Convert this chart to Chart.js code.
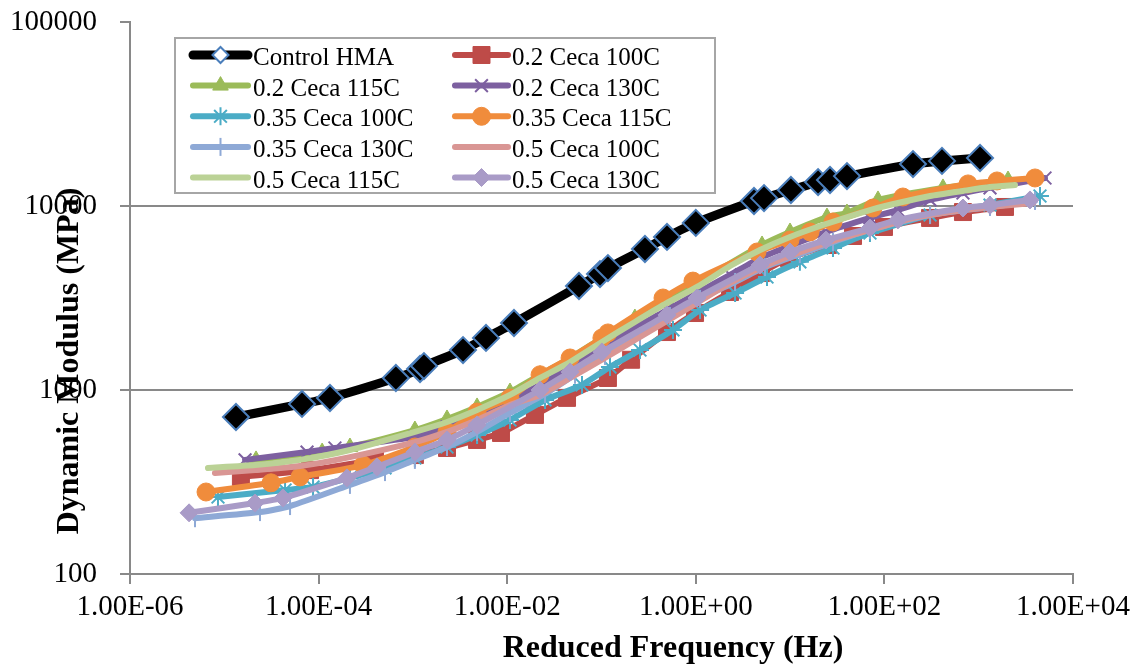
<!DOCTYPE html>
<html>
<head>
<meta charset="utf-8">
<script src="https://cdn.jsdelivr.net/npm/chart.js@4.4.1/dist/chart.umd.min.js"></script>
<style>html,body{margin:0;padding:0;background:#fff}</style>
</head>
<body>
<canvas id="chart" width="1145" height="667"></canvas>
<script>
// master curves, reduced frequency (Hz) vs dynamic modulus (MPa)
const xTicks=[1e-6,1e-4,1e-2,1,1e2,1e4];
const yTicks=[100,1000,10000,100000];

const controlFreq=[1.33e-5,6.67e-5,1.32e-4,6.6e-4,1.19e-3,1.31e-3,3.4e-3,5.96e-3,0.0118,0.0577,0.0964,0.117,0.289,0.495,1.0,4.14,5.29,10.2,19.8,26.5,40.1,201,408,1033];
const controlMod=[713,840,905,1162,1300,1349,1648,1918,2312,3673,4266,4600,5838,6790,8094,10650,11040,12220,13490,13840,14540,16900,17580,18240];

const c02_100Freq=[1.5e-5,8.11e-5,3.96e-4,1.05e-3,2.3e-3,4.79e-3,8.59e-3,0.0197,0.0431,0.117,0.206,0.495,0.982,2.31,4.91,9.73,25.2,46.5,99,305,681,1901];
const c02_100Mod=[337,367,417,443,484,535,584,732,906,1162,1460,2065,2620,3410,4320,5210,6140,6870,7690,8610,9270,9880];

const c02_115Freq=[2.17e-5,1.09e-4,2.15e-4,1.05e-3,2.3e-3,4.79e-3,0.0107,0.0223,0.0464,0.101,0.226,0.495,1.03,5.04,9.98,24.6,40.1,85.5,418,2046];
const c02_115Mod=[417,460,490,606,696,809,975,1210,1493,1918,2460,3080,3816,6140,7225,8710,9160,10790,12540,13840];

const c02_130Freq=[1.66e-5,7.54e-5,1.49e-4,1.05e-3,2.3e-3,4.79e-3,0.0107,0.0223,0.0464,0.101,0.226,0.495,1.03,2.31,4.8,9.98,24.0,70.3,139,305,681,1318,5047];
const c02_130Mod=[417,460,484,556,630,732,883,1065,1334,1690,2173,2720,3365,4220,5210,6070,7225,8610,9510,10790,11770,12540,14200];

const c035_100Freq=[8.57e-6,4.41e-5,8.73e-5,2.15e-4,5.06e-4,1.05e-3,2.3e-3,4.79e-3,0.0107,0.0252,0.0621,0.123,0.256,0.573,1.11,2.61,5.69,12.7,28.5,70.3,305,1318,4467];
const c035_100Mod=[262,286,297,333,377,427,490,569,687,883,1065,1334,1650,2120,2720,3365,4110,4970,5910,7130,8930,10120,11330];

const c035_115Freq=[6.4e-6,3.13e-5,6.35e-5,2.96e-4,1.05e-3,2.3e-3,4.79e-3,0.0107,0.0223,0.0464,0.101,0.117,0.449,0.933,4.46,9.98,16.3,28.5,75.7,157,771,1563,3956];
const c035_115Mod=[279,313,337,391,490,592,759,906,1210,1493,1918,2042,3162,3908,5623,6530,7225,8185,9750,11190,13180,13680,14200];

const c035_130Freq=[4.89e-6,2.39e-5,4.98e-5,2.15e-4,5.06e-4,1.05e-3,2.3e-3,4.79e-3,0.0107,0.0252,0.0524,0.109,0.256,0.532,1.11,2.61,5.42,12.7,28.5,70.3,305,1318,3956];
const c035_130Mod=[201,217,234,305,358,417,490,592,750,951,1210,1531,1963,2523,3126,3862,4656,5480,6370,7410,8930,9880,10650];

const c05_100Freq=[7.96e-6,2.12e-5,6.35e-5,2.15e-4,1.05e-3,2.3e-3,4.79e-3,0.0107,0.0223,0.0464,0.101,0.226,0.495,1.03,2.31,4.8,9.98,24.0,70.3,201,681,1683,3767];
const c05_100Mod=[354,367,386,432,521,592,687,829,940,1162,1460,1870,2371,2972,3816,4600,5350,6290,7410,8610,9510,10000,10380];

const c05_115Freq=[6.71e-6,2.12e-5,6.35e-5,2.15e-4,1.05e-3,2.3e-3,4.79e-3,0.0107,0.0223,0.0464,0.101,0.226,0.495,1.03,2.31,4.8,9.98,24.0,70.3,139,305,681,1318,2427];
const c05_115Mod=[377,391,417,472,592,670,779,940,1162,1419,1824,2343,2972,3631,4721,5770,6790,7980,9510,10380,11330,12070,12680,13010];

const c05_130Freq=[4.23e-6,2.12e-5,4.19e-5,2.0e-4,4.16e-4,1.05e-3,2.3e-3,4.79e-3,0.0223,0.0464,0.101,0.495,1.03,4.8,9.98,24.0,70.3,139,681,1318,3499];
const c05_130Mod=[215,243,259,333,382,460,535,646,1000,1253,1610,2558,3162,4776,5623,6530,7586,8400,9750,10100,10790];

const SERIF="'Liberation Serif','Times New Roman',serif";
const AXIS='#898989';
const pts=(f,m)=>f.map((x,i)=>({x,y:m[i]}));

// label, data, colour, marker, line width
const series=[
  {label:'Control HMA',f:controlFreq,m:controlMod,color:'#000000',style:'rectRot',r:13,fill:'#000000',edge:'#4A7EBB',bw:2,lw:9},
  {label:'0.2 Ceca 100C',f:c02_100Freq,m:c02_100Mod,color:'#BE4B48',style:'rect',r:12,bw:1,lw:6},
  {label:'0.2 Ceca 115C',f:c02_115Freq,m:c02_115Mod,color:'#9BBB59',style:'triangle',r:9,bw:1,lw:6},
  {label:'0.2 Ceca 130C',f:c02_130Freq,m:c02_130Mod,color:'#7D60A0',style:'crossRot',r:9,bw:2,lw:6},
  {label:'0.35 Ceca 100C',f:c035_100Freq,m:c035_100Mod,color:'#4BACC6',style:'star',r:9,bw:2,lw:6},
  {label:'0.35 Ceca 115C',f:c035_115Freq,m:c035_115Mod,color:'#F08C3C',style:'circle',r:9,bw:1,lw:6},
  {label:'0.35 Ceca 130C',f:c035_130Freq,m:c035_130Mod,color:'#8EA9D6',style:'line',rot:90,r:9,bw:2,lw:6},
  {label:'0.5 Ceca 100C',f:c05_100Freq,m:c05_100Mod,color:'#D99694',style:false,r:0,bw:0,lw:6},
  {label:'0.5 Ceca 115C',f:c05_115Freq,m:c05_115Mod,color:'#BBD296',style:false,r:0,bw:0,lw:6},
  {label:'0.5 Ceca 130C',f:c05_130Freq,m:c05_130Mod,color:'#A99BC7',style:'rectRot',r:9,bw:1,lw:6}
];

const sci=v=>{const e=Math.round(Math.log10(v));const mant=(v/Math.pow(10,e)).toFixed(2);return mant+'E'+(e<0?'-':'+')+String(Math.abs(e)).padStart(2,'0');};

// legend box + axis titles drawn on top of the plot
const overlay={
  id:'overlay',
  afterDraw(chart){
    const ctx=chart.ctx;
    ctx.save();
    ctx.fillStyle='#000';
    ctx.font='bold 32px '+SERIF;
    ctx.textAlign='center';ctx.textBaseline='alphabetic';
    ctx.fillText('Reduced Frequency (Hz)',673,657);
    ctx.translate(70,361);ctx.rotate(-Math.PI/2);
    ctx.textBaseline='middle';
    ctx.fillText('Dynamic Modulus (MPa)',0,0);
    ctx.restore();

    ctx.save();
    ctx.fillStyle='#fff';ctx.fillRect(175,38,540,155);
    ctx.strokeStyle='#A6A6A6';ctx.lineWidth=2;ctx.strokeRect(175,38,540,155);
    const rows=[55,85.6,116.3,146.9,177.5];
    const cols=[{a:193,b:248,t:253},{a:455,b:508,t:512}];
    ctx.font='25px '+SERIF;ctx.textAlign='left';ctx.textBaseline='alphabetic';
    series.forEach((s,i)=>{
      const c=cols[i%2],y=rows[Math.floor(i/2)];
      ctx.strokeStyle=s.color;ctx.lineWidth=s.lw;ctx.lineCap='round';
      ctx.beginPath();ctx.moveTo(c.a,y);ctx.lineTo(c.b,y);ctx.stroke();
      if(s.style){
        const mx=(c.a+c.b)/2;
        ctx.fillStyle=i===0?'#fff':(s.fill||s.color);
        ctx.strokeStyle=s.edge||s.color;
        ctx.lineWidth=s.bw;ctx.lineCap='butt';
        Chart.helpers.drawPoint(ctx,{pointStyle:s.style,radius:i===0?8:s.r,rotation:s.rot||0,borderWidth:s.bw},mx,y);
      }
      ctx.fillStyle='#000';
      ctx.fillText(s.label,c.t,y+10);
    });
    ctx.restore();
  }
};

new Chart(document.getElementById('chart'),{
  type:'line',
  data:{datasets:series.map((s,i)=>({
    label:s.label,data:pts(s.f,s.m),order:series.length-i,
    borderColor:s.color,borderWidth:s.lw,borderCapStyle:'round',borderJoinStyle:'round',tension:0.2,
    pointStyle:s.style,pointRadius:s.r,pointRotation:s.rot||0,
    pointBackgroundColor:s.fill||s.color,pointBorderColor:s.edge||s.color,pointBorderWidth:s.bw
  }))},
  options:{
    responsive:false,animation:false,devicePixelRatio:1,
    layout:{padding:{left:0,top:22,right:72,bottom:0}},
    plugins:{legend:{display:false},tooltip:{enabled:false}},
    scales:{
      x:{type:'logarithmic',min:1e-6,max:1e4,
        afterBuildTicks:s=>{s.ticks=xTicks.map(v=>({value:v}));},
        afterFit:s=>{s.height=93;s.paddingLeft=0;s.paddingRight=0;},
        ticks:{autoSkip:false,maxRotation:0,padding:6,color:'#000',font:{family:SERIF,size:29},callback:v=>sci(v)},
        grid:{drawOnChartArea:false,tickLength:10,color:AXIS,lineWidth:2},
        border:{color:AXIS,width:2}},
      y:{type:'logarithmic',min:100,max:100000,
        afterBuildTicks:s=>{s.ticks=yTicks.map(v=>({value:v}));},
        afterFit:s=>{s.width=130;s.paddingTop=0;s.paddingBottom=0;},
        ticks:{padding:23,color:'#000',font:{family:SERIF,size:29},callback:v=>String(v)},
        grid:{tickLength:10,lineWidth:2,tickColor:AXIS,color:c=>(c.tick&&(c.tick.value===100000||c.tick.value===100))?'rgba(0,0,0,0)':AXIS},
        border:{color:AXIS,width:2}}
    }
  },
  plugins:[overlay]
});
</script>
</body>
</html>
